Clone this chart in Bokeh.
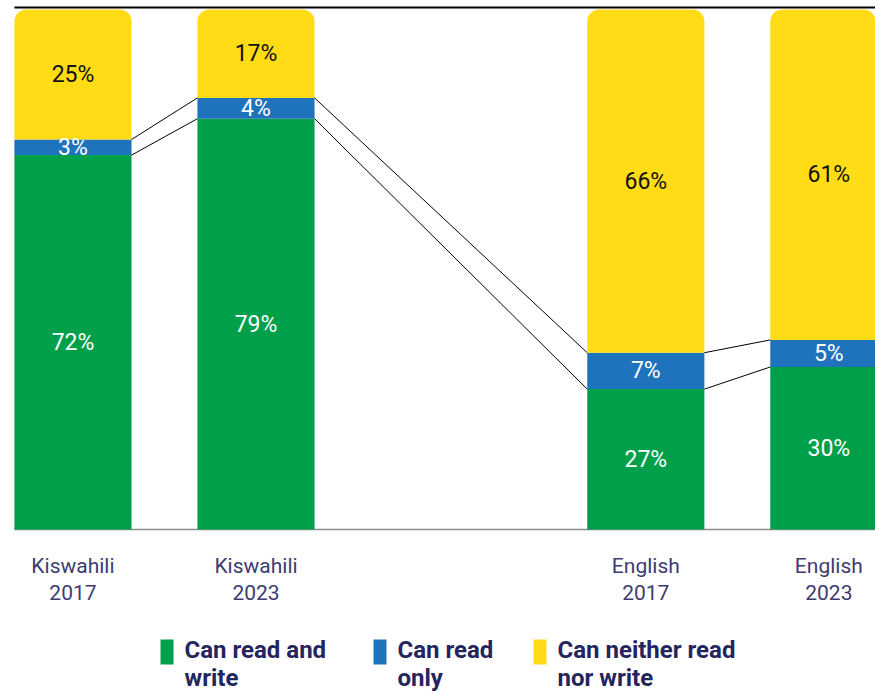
import numpy as np
from bokeh.plotting import figure
from bokeh.models import Range1d
from bokeh.core.properties import value
from bokeh.embed import file_html
from bokeh.resources import INLINE

# ---- data ----
languages = ["Kiswahili", "Kiswahili", "English", "English"]
years = ["2017", "2023", "2017", "2023"]
read_write = [72, 79, 27, 30]
read_only = [3, 4, 7, 5]
neither = [25, 17, 66, 61]
legend_labels = ["Can read and\nwrite", "Can read\nonly", "Can neither read\nnor write"]

# ---- styles ----
GREEN, BLUE, YELLOW = "#00a04a", "#1f72bc", "#ffdc15"
NAVY = "#25255e"
LABEL_COL = "#3d3c70"
FONT = "Roboto"
W, H = 875, 691
X0, X1 = -0.396, 4.385
Y0, Y1 = -31.15, 101.73

rw = np.array(read_write, float)
ro = np.array(read_only, float)
ne = np.array(neither, float)
total = rw + ro + ne
g_top = rw / total * 100
b_top = (rw + ro) / total * 100
y_top = (rw + ro + ne) / total * 100

group_gap = 1.13
x = np.arange(len(years)) + np.array([0, 0, 1, 1]) * group_gap
bar_w = 0.64

p = figure(width=W, height=H, output_backend="svg", toolbar_location=None,
           x_range=Range1d(X0, X1), y_range=Range1d(Y0, Y1),
           x_axis_type=None, y_axis_type=None, min_border=0)
p.grid.visible = False
p.outline_line_color = None
p.background_fill_color = "white"

# helpers: legend layout is given in screen pixels
def sx(px):
    return X0 + np.asarray(px, float) * (X1 - X0) / W

def sy(py):
    return Y1 - np.asarray(py, float) * (Y1 - Y0) / H

# baseline and top rule
p.segment(x0=[x[0] - bar_w / 2], x1=[X1], y0=[0], y1=[0],
          line_color="#8c8c8c", line_width=1.5)
p.segment(x0=[x[0] - bar_w / 2], x1=[X1], y0=[100.4], y1=[100.4],
          line_color="black", line_width=2)

# bars
p.vbar(x=x, bottom=0, top=g_top, width=bar_w, fill_color=GREEN, line_color=None)
p.vbar(x=x, bottom=g_top, top=b_top, width=bar_w, fill_color=BLUE, line_color=None)
p.vbar(x=x, bottom=b_top, top=y_top, width=bar_w, fill_color=YELLOW, line_color=None,
       border_radius=(12, 12, 0, 0))

# connectors
for lvl in (g_top, b_top):
    p.segment(x0=x[:-1] + bar_w / 2, x1=x[1:] - bar_w / 2, y0=lvl[:-1], y1=lvl[1:],
              line_color="black", line_width=1)

# value labels
def pct(vals):
    return [f"{int(v)}%" for v in vals]

lbl = dict(text_align="center", text_baseline="middle", text_font=value(FONT),
           text_font_size="23px")
p.text(x=x, y=g_top / 2, text=pct(rw), text_color="white", **lbl)
p.text(x=x, y=(g_top + b_top) / 2, text=pct(ro), text_color="white", **lbl)
p.text(x=x, y=(b_top + y_top) / 2, text=pct(ne), text_color="#111111", **lbl)

# category labels
cat_text = [f"{l}\n{yr}" for l, yr in zip(languages, years)]
p.text(x=x, y=-4.8, text=cat_text, text_align="center", text_baseline="top",
       text_color=LABEL_COL, text_font=value(FONT), text_font_size="21px",
       text_line_height=1.1)

# legend (drawn manually: swatch top-aligned with first text line)
sw_left = np.array([160, 373, 533])
p.quad(left=sx(sw_left), right=sx(sw_left + 13), top=sy(639), bottom=sy(664),
       fill_color=[GREEN, BLUE, YELLOW], line_color=None)
p.text(x=sx(sw_left + 24), y=sy(635), text=legend_labels, text_align="left",
       text_baseline="top", text_color=NAVY, text_font=value(FONT),
       text_font_size="24px", text_font_style="bold", text_line_height=1.0)

open("out.html", "w").write(file_html(p, INLINE))
